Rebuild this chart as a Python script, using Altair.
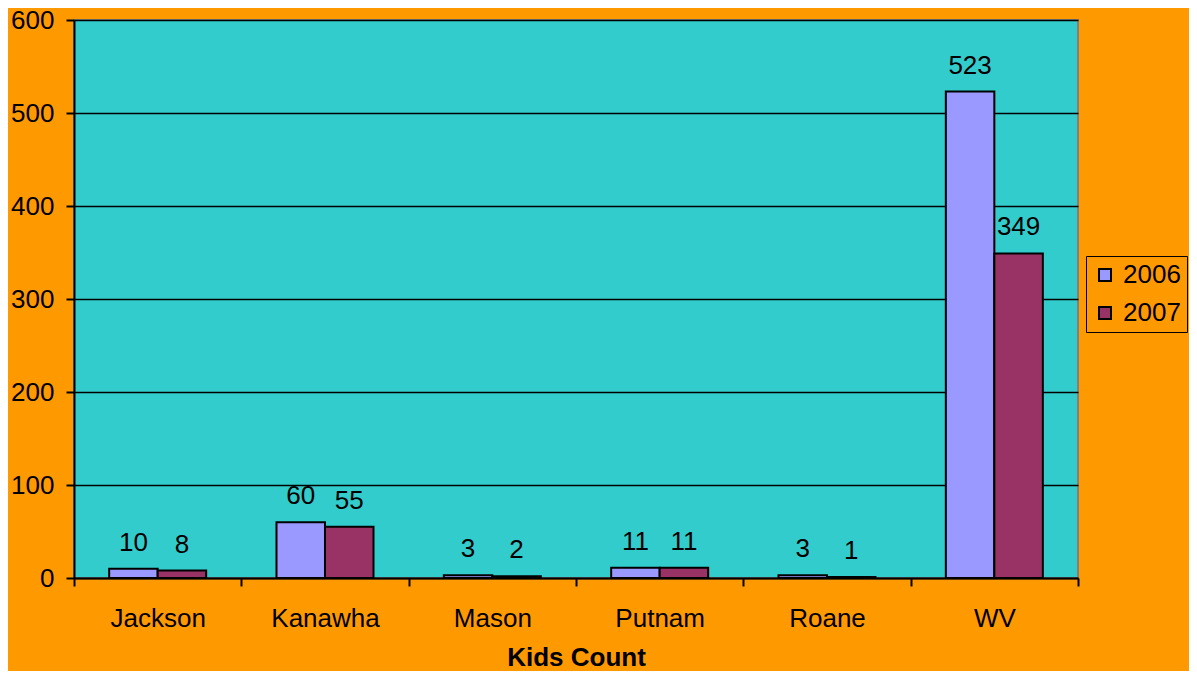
import altair as alt
import pandas as pd

counties = ["Jackson", "Kanawha", "Mason", "Putnam", "Roane", "WV"]
years = ["2006", "2007"]
values_2006 = [10, 60, 3, 11, 3, 523]
values_2007 = [8, 55, 2, 11, 1, 349]
bar_colors = ["#9999FF", "#993366"]

rows = []
for c, a, b in zip(counties, values_2006, values_2007):
    rows.append({"county": c, "year": "2006", "value": a})
    rows.append({"county": c, "year": "2007", "value": b})
df = pd.DataFrame(rows)

FONT = "Liberation Sans"
FS = 26

x_enc = alt.X(
    "county:N",
    sort=counties,
    scale=alt.Scale(paddingInner=0, paddingOuter=0),
    axis=alt.Axis(
        title="Kids Count",
        labelAngle=0,
        tickBand="extent",
        tickSize=8,
        tickWidth=2,
        tickColor="black",
        domainColor="black",
        domainWidth=2,
        labelFontSize=FS,
        labelFont=FONT,
        labelColor="black",
        labelPadding=19,
        titleFontSize=FS,
        titleFont=FONT,
        titleFontWeight="bold",
        titleColor="black",
        titlePadding=13,
        grid=False,
    ),
)
xoff = alt.XOffset("year:N", sort=years, scale=alt.Scale(paddingInner=0, paddingOuter=0.725))
y_enc = alt.Y(
    "value:Q",
    scale=alt.Scale(domain=[0, 600]),
    axis=alt.Axis(
        title=None,
        values=[0, 100, 200, 300, 400, 500, 600],
        tickSize=8,
        tickWidth=2,
        tickColor="black",
        domainColor="black",
        domainWidth=2,
        labelFontSize=FS,
        labelFont=FONT,
        labelColor="black",
        labelPadding=12,
        grid=True,
        gridColor="black",
        gridWidth=1.5,
        gridOpacity=1,
    ),
)

bars = alt.Chart(df).mark_bar(stroke="black", strokeWidth=2).encode(
    x=x_enc,
    xOffset=xoff,
    y=y_enc,
    color=alt.Color(
        "year:N",
        sort=years,
        scale=alt.Scale(domain=years, range=bar_colors),
        legend=alt.Legend(
            title=None,
            orient="none",
            legendX=1012,
            legendY=236,
            labelFontSize=FS,
            labelFont=FONT,
            labelColor="black",
            symbolType="square",
            symbolSize=144,
            symbolStrokeColor="black",
            symbolStrokeWidth=2,
            rowPadding=12,
            padding=6,
            strokeColor="black",
            fillColor="#FF9900",
            labelOffset=5,
        ),
    ),
)

labels = alt.Chart(df).mark_text(
    baseline="bottom", dy=-13, fontSize=FS, font=FONT, color="black"
).encode(
    x=alt.X("county:N", sort=counties),
    xOffset=alt.XOffset("year:N", sort=years),
    y=alt.Y("value:Q"),
    text=alt.Text("value:Q"),
)

chart = (
    alt.layer(bars, labels)
    .properties(
        width=1004,
        height=558,
        padding={"left": 66, "top": 12, "right": 111, "bottom": 93},
        autosize=alt.AutoSizeParams(type="none"),
        background="#FF9900",
    )
    .configure_view(fill="#33CCCC", stroke="#808080", strokeWidth=2)
)

chart.save("out.html", embed_options={"renderer": "svg", "actions": False})
